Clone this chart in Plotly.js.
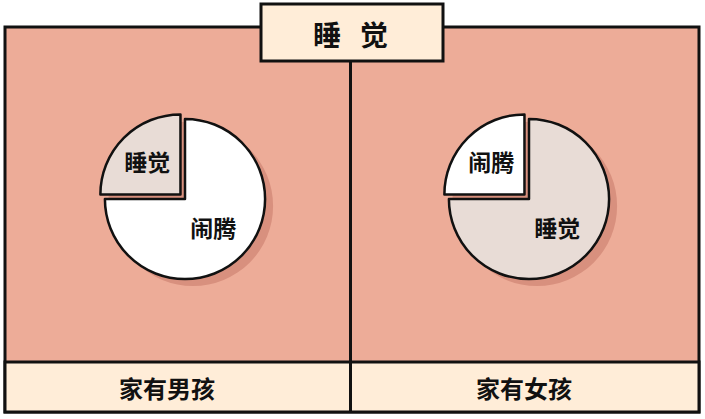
<!DOCTYPE html>
<html>
<head>
<meta charset="utf-8">
<script src="https://cdn.plot.ly/plotly-3.0.1.min.js"></script>
<style>html,body{margin:0;padding:0;background:#fff;}#chart{width:705px;height:419px;}</style>
</head>
<body>
<div id="chart"></div>
<script>
// Data
var chartTitle = "睡\u00A0\u00A0\u00A0觉";
var groups = ["家有男孩", "家有女孩"];
var boyLabels = ["睡觉", "闹腾"];
var boyValues = [25, 75];
var girlLabels = ["闹腾", "睡觉"];
var girlValues = [25, 75];

var W = 705, H = 419;
var FONT = '"Noto Sans CJK SC", "Noto Sans", sans-serif';
var bg = '#EDAC98', cream = '#FFEDD8', shadow = '#D8907E';
var colorMap = {"睡觉": '#E8DCD6', "闹腾": '#FFFFFF'};

function dom(cx, cy, half) {
  return {x: [(cx - half) / W, (cx + half) / W], y: [1 - (cy + half) / H, 1 - (cy - half) / H]};
}
var pulls = [0.08, 0];
function pieTrace(labels, values, cx, cy, isShadow) {
  var half = 86.5;
  return {
    type: 'pie', labels: labels, values: values, sort: false,
    direction: 'clockwise', rotation: -90,
    pull: pulls,
    domain: isShadow ? dom(cx + 8, cy + 7, half) : dom(cx, cy, half),
    marker: {
      colors: isShadow ? [shadow, shadow] : labels.map(function (l) { return colorMap[l]; }),
      line: {color: isShadow ? shadow : '#111', width: isShadow ? 0 : 2.5}
    },
    textinfo: isShadow ? 'none' : 'label',
    textposition: 'inside', insidetextorientation: 'horizontal',
    textfont: {family: FONT, size: 23, color: '#111', weight: 700},
    hoverinfo: 'skip', showlegend: false
  };
}

var data = [
  pieTrace(boyLabels, boyValues, 185, 199, true),
  pieTrace(girlLabels, girlValues, 529, 199, true),
  pieTrace(boyLabels, boyValues, 185, 199, false),
  pieTrace(girlLabels, girlValues, 529, 199, false)
];

function px(x) { return x / W; }
function py(y) { return 1 - y / H; }
var shapes = [
  {type: 'rect', xref: 'paper', yref: 'paper', x0: px(5), x1: px(699), y0: py(412), y1: py(27), fillcolor: bg, line: {color: '#111', width: 3}, layer: 'below'},
  {type: 'rect', xref: 'paper', yref: 'paper', x0: px(5), x1: px(699), y0: py(412), y1: py(362), fillcolor: cream, line: {color: '#111', width: 3}, layer: 'below'},
  {type: 'line', xref: 'paper', yref: 'paper', x0: px(350.5), x1: px(350.5), y0: py(412), y1: py(60), line: {color: '#111', width: 3}, layer: 'below'},
  {type: 'rect', xref: 'paper', yref: 'paper', x0: px(261), x1: px(443), y0: py(61), y1: py(4), fillcolor: cream, line: {color: '#111', width: 3}, layer: 'below'}
];

function ann(text, x, y, size) {
  return {text: text, xref: 'paper', yref: 'paper', x: px(x), y: py(y), xanchor: 'center', yanchor: 'middle',
    showarrow: false, font: {family: FONT, size: size, color: '#111', weight: 700}};
}
var annotations = [
  ann(chartTitle, 350, 34, 28),
  ann(groups[0], 167, 387.5, 24),
  ann(groups[1], 524, 387.5, 24)
];

var layout = {
  width: W, height: H, margin: {l: 0, r: 0, t: 0, b: 0},
  paper_bgcolor: '#fff', plot_bgcolor: '#fff',
  showlegend: false, shapes: shapes, annotations: annotations
};
Plotly.newPlot('chart', data, layout, {displayModeBar: false, staticPlot: true});
</script>
</body>
</html>
